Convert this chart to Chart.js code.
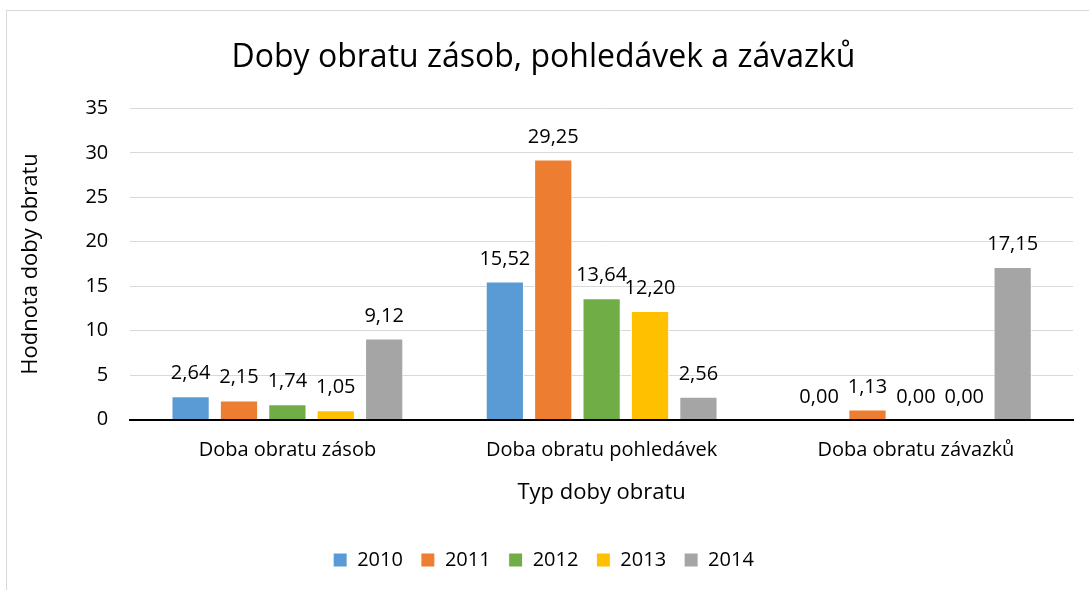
<!DOCTYPE html>
<html>
<head>
<meta charset="utf-8">
<script src="https://cdn.jsdelivr.net/npm/chart.js@4"></script>
<style>
  html, body { margin: 0; padding: 0; background: #fff; }
  #wrap { position: absolute; left: 0; top: 0; width: 1089px; height: 590px; }
  #frame { position: absolute; left: 6px; top: 10px; width: 1100px; height: 600px; border: 1px solid #d9d9d9; }
</style>
</head>
<body>
<div id="frame"></div>
<div id="wrap"><canvas id="chart" width="1089" height="590"></canvas></div>
<script>
const categories = ['Doba obratu zásob', 'Doba obratu pohledávek', 'Doba obratu závazků'];
const years = ['2010', '2011', '2012', '2013', '2014'];
const v2010 = [2.64, 15.52, 0.00];
const v2011 = [2.15, 29.25, 1.13];
const v2012 = [1.74, 13.64, 0.00];
const v2013 = [1.05, 12.20, 0.00];
const v2014 = [9.12, 2.56, 17.15];
const colors = ['#5b9bd5', '#ed7d31', '#70ad47', '#ffc000', '#a5a5a5'];
const FONT = '"Open Sans", Lato, sans-serif';

const series = [v2010, v2011, v2012, v2013, v2014];

// value labels above bars, comma as decimal mark
const barLabels = {
    id: 'barLabels',
    afterDatasetsDraw(chart) {
        const ctx = chart.ctx;
        ctx.save();
        ctx.font = '20px ' + FONT;
        ctx.fillStyle = '#000';
        ctx.textAlign = 'center';
        ctx.textBaseline = 'alphabetic';
        chart.data.datasets.forEach((ds, i) => {
            chart.getDatasetMeta(i).data.forEach((bar, j) => {
                const txt = ds.data[j].toFixed(2).replace('.', ',');
                ctx.fillText(txt, bar.x, bar.y - 17);
            });
        });
        ctx.restore();
    }
};

new Chart(document.getElementById('chart'), {
    type: 'bar',
    data: {
        labels: categories,
        datasets: years.map((y, i) => ({
            label: y,
            data: series[i],
            backgroundColor: colors[i],
            borderColor: '#fff',
            borderWidth: 1,
            categoryPercentage: 0.77,
            barPercentage: 0.79
        }))
    },
    options: {
        responsive: false,
        animation: false,
        layout: { padding: { left: 14, right: 16, top: 16, bottom: 10 } },
        plugins: {
            title: {
                display: true,
                text: 'Doby obratu zásob, pohledávek a závazků',
                color: '#000',
                font: { family: FONT, size: 32, weight: 'normal' },
                padding: { top: 23, bottom: 31 }
            },
            legend: {
                position: 'bottom',
                labels: {
                    color: '#000',
                    font: { family: FONT, size: 20 },
                    boxWidth: 14,
                    boxHeight: 14,
                    padding: 18
                }
            },
            tooltip: { enabled: false }
        },
        scales: {
            x: {
                grid: { display: false },
                border: { color: '#000', width: 2 },
                ticks: { color: '#000', font: { family: FONT, size: 20 }, padding: 11 },
                title: {
                    display: true,
                    text: 'Typ doby obratu',
                    color: '#000',
                    font: { family: FONT, size: 22 },
                    padding: { top: 6, bottom: 26 }
                }
            },
            y: {
                min: 0,
                max: 35,
                ticks: { stepSize: 5, color: '#000', font: { family: FONT, size: 20 }, padding: 22 },
                grid: { color: '#d9d9d9', drawTicks: false },
                border: { display: false },
                title: {
                    display: true,
                    text: 'Hodnota doby obratu',
                    color: '#000',
                    font: { family: FONT, size: 22 },
                    padding: { bottom: 19 }
                }
            }
        }
    },
    plugins: [barLabels]
});
</script>
</body>
</html>
